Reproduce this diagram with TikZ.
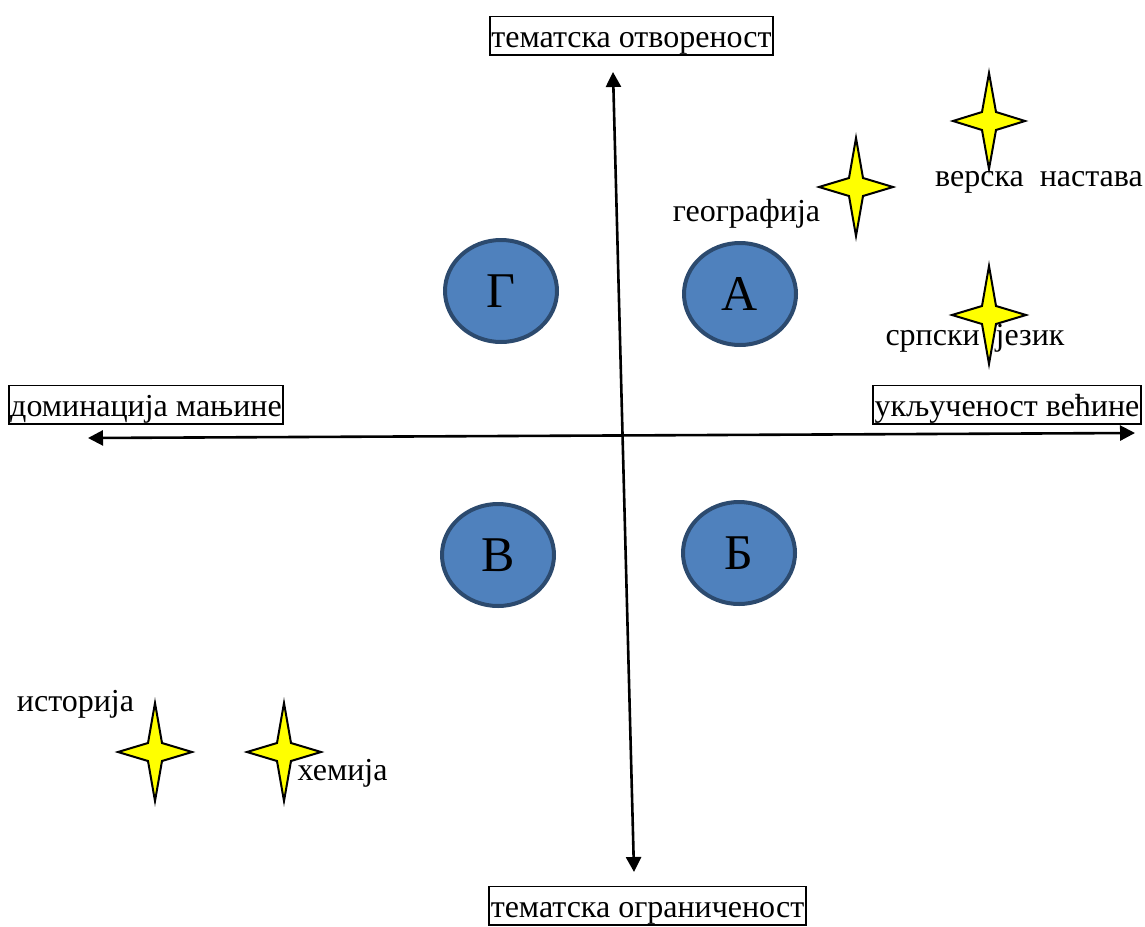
\documentclass[tikz,border=0pt]{standalone}
\usepackage{fontspec}
\setmainfont{Liberation Serif}
\usetikzlibrary{arrows.meta,shapes.geometric,calc}
\definecolor{cfill}{HTML}{4F81BD}
\definecolor{cline}{HTML}{2C4A6E}
\definecolor{sfill}{HTML}{FFFF00}
\tikzset{
  axis/.style={line width=2.6pt, {Triangle[length=15pt,width=15pt]}-{Triangle[length=15pt,width=15pt]}},
  lbox/.style={draw, line width=1.6pt, inner xsep=1.5pt, inner ysep=1.5pt, text height=29pt, text depth=6.5pt, font=\fontsize{32}{34}\selectfont, anchor=base},
  circ/.style={ellipse, draw=cline, fill=cfill, line width=4pt, minimum width=112pt, minimum height=102pt, font=\fontsize{50}{52}\selectfont, inner sep=0pt},
  lbl/.style={font=\fontsize{32}{34}\selectfont, inner sep=0pt, anchor=base},
  star/.style={fill=sfill, draw=black, line width=2pt, line join=miter}
}
\newcommand{\fourstar}[5]{% name, x, y, hx, hy
  \coordinate (#1) at (#2,#3);
  \draw[star] ($(#1)+(0,-#5)$) -- ($(#1)+(7,-9)$) -- ($(#1)+(#4,0)$) -- ($(#1)+(7,9)$) -- ($(#1)+(0,#5)$) -- ($(#1)+(-7,9)$) -- ($(#1)+(-#4,0)$) -- ($(#1)+(-7,-9)$) -- cycle;}
\begin{document}
\begin{tikzpicture}[x=1pt,y=-1pt]
\useasboundingbox (0,0) rectangle (1145,926);
% axes
\coordinate (vt) at (613,72);
\coordinate (vb) at (634,872);
\coordinate (hl) at (88,438);
\coordinate (hr) at (1135,433);
\draw[axis] (vt) -- (vb);
\draw[axis] (hl) -- (hr);
% boxes
\node[lbox] (top) at (631.5,47) {тематска отвореност};
\node[lbox] (bot) at (647.5,917) {тематска ограниченост};
\node[lbox] (left) at (146,416) {доминација мањине};
\node[lbox] (right) at (1007,416) {укљученост већине};
% circles
\node[circ] (G) at (501,291) {Г};
\node[circ] (A) at (740,294) {А};
\node[circ] (V) at (498,555) {В};
\node[circ] (B) at (739,553) {Б};
% labels
\node[lbl] (lver) at (1039,186) {верска\ \ настава};
\node[lbl] (lgeo) at (746.5,221) {географија};
\node[lbl] (lsrp) at (975,345) {српски\hspace{16pt}језик};
\node[lbl] (list) at (75.5,711) {историја};
\node[lbl] (lhem) at (342.5,780) {хемија};
% stars
\fourstar{sver}{989}{121}{36}{48}
\fourstar{sgeo}{856}{187}{37}{49}
\fourstar{ssrp}{989}{315}{37}{49}
\fourstar{sist}{155}{752}{37}{49}
\fourstar{shem}{284}{752}{37}{49}
\end{tikzpicture}
\end{document}
